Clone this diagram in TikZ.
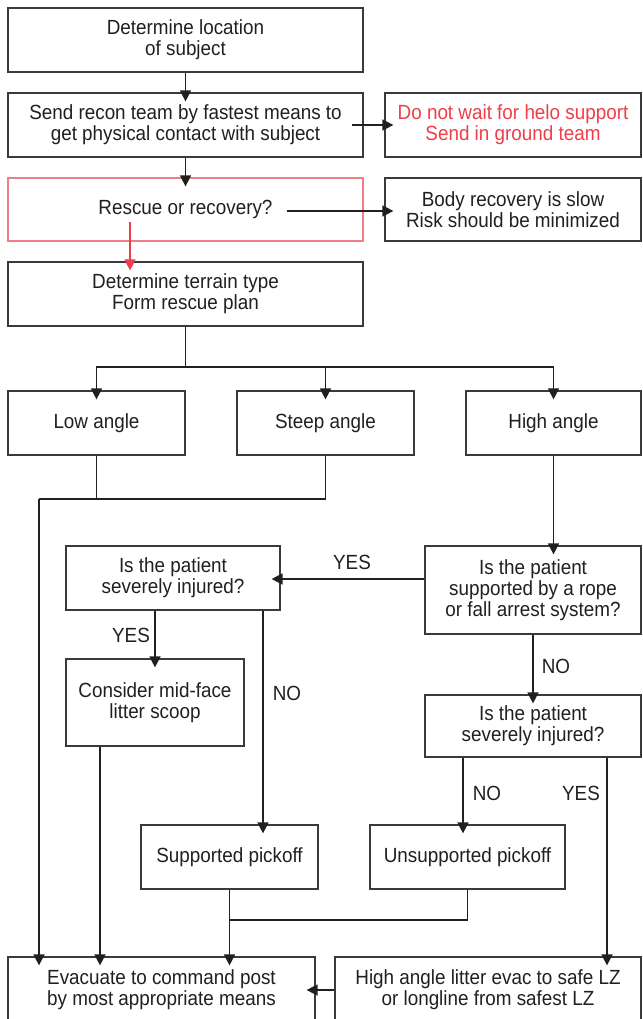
\documentclass[tikz,border=0pt]{standalone}
\usepackage{fontspec}
\setmainfont[FakeStretch=0.92]{Liberation Sans}
\usetikzlibrary{arrows.meta,calc}
\definecolor{ink}{HTML}{231F20}
\definecolor{edge}{HTML}{3A3A3A}
\definecolor{redtxt}{HTML}{EF3E4A}
\definecolor{redbox}{HTML}{EC7F87}
\begin{document}
\begin{tikzpicture}[x=1pt,y=-1pt,
  box/.style={draw=edge, line width=1.2pt, rectangle, inner sep=0pt, align=center,
    text=ink, font=\fontsize{20.5pt}{21pt}\selectfont},
  lbl/.style={text=ink, font=\fontsize{20.5pt}{21pt}\selectfont, inner sep=0pt},
  conn/.style={draw=ink, line width=1.4pt},
  arr/.style={conn, -{Triangle[length=11pt,width=11pt]}, shorten >=-9pt}]
\fill[white] (0,0) rectangle (642,1019);
\useasboundingbox (0,0) rectangle (642,1019);

\node[box, minimum width=355pt, minimum height=64pt] (b1) at (185.5,40) {Determine location\\of subject};
\node[box, minimum width=355pt, minimum height=64pt] (b2) at (185.5,125) {Send recon team by fastest means to\\get physical contact with subject};
\node[box, minimum width=256pt, minimum height=64pt, text=redtxt] (b3) at (513,125) {Do not wait for helo support\\Send in ground team};
\node[box, draw=redbox, minimum width=355pt, minimum height=63pt] (b4) at (185.5,209.5) {Rescue or recovery?};
\node[box, minimum width=256pt, minimum height=63pt] (b5) at (513,209.5) {Body recovery is slow\\Risk should be minimized};
\node[box, minimum width=355pt, minimum height=64pt] (b6) at (185.5,294) {Determine terrain type\\Form rescue plan};

\node[box, minimum width=177pt, minimum height=64pt] (low) at (96.5,423) {Low angle};
\node[box, minimum width=177pt, minimum height=64pt] (steep) at (325.5,423) {Steep angle};
\node[box, minimum width=175pt, minimum height=64pt] (high) at (553.5,423) {High angle};

\node[box, minimum width=214pt, minimum height=64pt] (sev1) at (173,578) {Is the patient\\severely injured?};
\node[box, minimum width=216pt, minimum height=88pt] (rope) at (533,590) {Is the patient\\supported by a rope\\or fall arrest system?};
\node[box, minimum width=178pt, minimum height=87pt] (scoop) at (155,702.5) {Consider mid-face\\litter scoop};
\node[box, minimum width=216pt, minimum height=62pt] (sev2) at (533,726) {Is the patient\\severely injured?};
\node[box, minimum width=177pt, minimum height=64pt] (sup) at (229.5,857) {Supported pickoff};
\node[box, minimum width=195pt, minimum height=64pt] (unsup) at (467.5,857) {Unsupported pickoff};
\node[box, minimum width=307pt, minimum height=66pt] (evac) at (161.5,990) {Evacuate to command post\\by most appropriate means};
\node[box, minimum width=306pt, minimum height=66pt] (litter) at (488,990) {High angle litter evac to safe LZ\\or longline from safest LZ};

% top chain
\draw[arr] (b1.south) -- (b2.north);
\draw[arr] ([xshift=-12pt]b2.east) -- (b3.west);
\draw[arr] (b2.south) -- (b4.north);
\draw[arr] ([xshift=-77pt,yshift=-1.5pt]b4.east) -- ([yshift=-1.5pt]b5.west);
\coordinate (r0) at (130,222);
\draw[arr, draw=redtxt, fill=redtxt, line width=1.2pt] (r0) -- (r0 |- b6.north);

% split to terrain types
\coordinate (split) at (185.5,367);
\draw[conn] (b6.south) -- (split);
\draw[arr] (split) -| (low.north);
\draw[arr] (split) -| (steep.north);
\draw[arr] (split) -| (high.north);

% low & steep to evac
\coordinate (j) at (39,499);
\draw[conn] (low.south) -- (low.south |- j);
\draw[conn] (steep.south) -- (steep.south |- j) -- (j);
\draw[arr] (j) -- (j |- evac.north);

% high angle branch
\draw[arr] (high.south) -- (high.south |- rope.north);
\draw[arr] ([yshift=11pt]rope.west) -- ([yshift=11pt]rope.west -| sev1.east);
\node[lbl] (yes1) at (352,562) {YES};

\draw[arr] (scoop.north |- sev1.south) -- (scoop.north);
\node[lbl] (yes2) at (131,635) {YES};

\coordinate (n1) at ([xshift=90pt]sev1.south);
\draw[arr] (n1) -- (n1 |- sup.north);
\node[lbl] (no1) at (287,693) {NO};

\draw[arr] (rope.south) -- (sev2.north);
\node[lbl] (no2) at (556,666) {NO};

\coordinate (n2) at ([xshift=-70pt]sev2.south);
\draw[arr] (n2) -- (n2 |- unsup.north);
\node[lbl] (no3) at (487,793) {NO};

\coordinate (y3) at ([xshift=74pt]sev2.south);
\draw[arr] (y3) -- (y3 |- litter.north);
\node[lbl] (yes3) at (581,793) {YES};

\coordinate (s0) at ([xshift=-55pt]scoop.south);
\draw[arr] (s0) -- (s0 |- evac.north);

% pickoffs to evac
\coordinate (m) at (229.5,920);
\draw[conn] (unsup.south) -- (unsup.south |- m) -- (m);
\draw[arr] (sup.south) -- (sup.south |- evac.north);

\draw[arr] (litter.west) -- (evac.east);
\end{tikzpicture}
\end{document}
